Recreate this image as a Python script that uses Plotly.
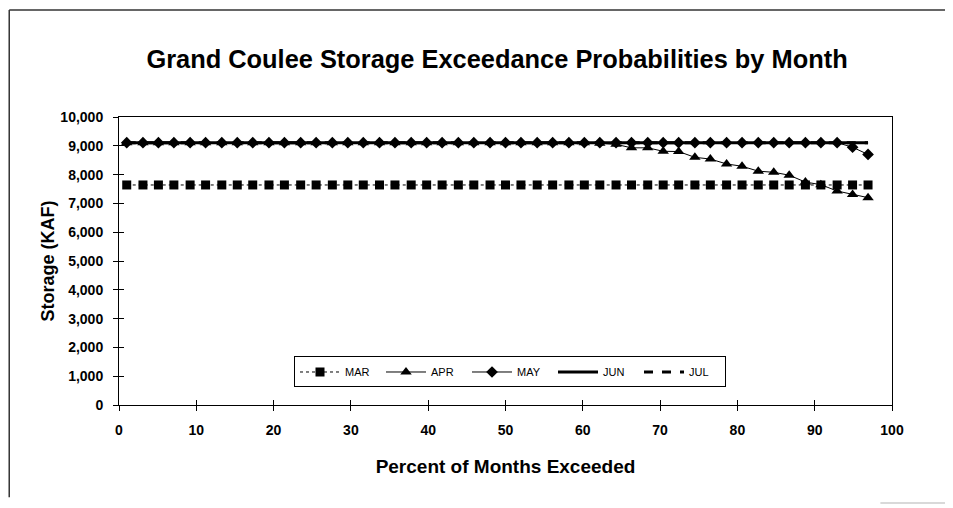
import plotly.graph_objects as go

# Percent of months exceeded (x positions of the plotted points)
pct = [1.0, 3.1, 5.1, 7.1, 9.2, 11.2, 13.3, 15.3, 17.3, 19.4, 21.4, 23.5,
       25.5, 27.6, 29.6, 31.6, 33.7, 35.7, 37.8, 39.8, 41.8, 43.9, 45.9, 48.0,
       50.0, 52.0, 54.1, 56.1, 58.2, 60.2, 62.2, 64.3, 66.3, 68.4, 70.4, 72.4,
       74.5, 76.5, 78.6, 80.6, 82.7, 84.7, 86.7, 88.8, 90.8, 92.9, 94.9, 96.9]

mar = [7640] * 48
apr = [9110] * 30 + [9090, 9050, 8930, 8930, 8810, 8800, 8600, 8540, 8370, 8290,
                     8120, 8080, 7980, 7740, 7650, 7430, 7310, 7200]
may = [9110] * 46 + [8950, 8700]
jun = [9110] * 48
jul = [9110] * 48

x_ticks = [0, 10, 20, 30, 40, 50, 60, 70, 80, 90, 100]
y_ticks = [0, 1000, 2000, 3000, 4000, 5000, 6000, 7000, 8000, 9000, 10000]

FONT = "Liberation Sans, Arial, sans-serif"

fig = go.Figure()
fig.add_trace(go.Scatter(x=pct, y=jul, name="JUL", mode="lines",
                         line=dict(color="black", width=3, dash="dash")))
fig.add_trace(go.Scatter(x=pct, y=jun, name="JUN", mode="lines",
                         line=dict(color="black", width=3)))
fig.add_trace(go.Scatter(x=pct, y=mar, name="MAR", mode="lines+markers",
                         line=dict(color="black", width=1, dash="dot"),
                         marker=dict(symbol="square", size=9, color="black")))
fig.add_trace(go.Scatter(x=pct, y=apr, name="APR", mode="lines+markers",
                         line=dict(color="black", width=1),
                         marker=dict(symbol="triangle-up", size=10, color="black")))
fig.add_trace(go.Scatter(x=pct, y=may, name="MAY", mode="lines+markers",
                         line=dict(color="black", width=1),
                         marker=dict(symbol="diamond", size=9, color="black")))
# invisible trace to create the crossing-tick overlay axes
fig.add_trace(go.Scatter(x=[0], y=[0], xaxis="x2", yaxis="y2", mode="markers",
                         marker=dict(opacity=0), showlegend=False, hoverinfo="skip"))

tickfont = dict(family=FONT, size=14, color="black", weight="bold")

fig.update_layout(
    width=945, height=500,
    margin=dict(l=111, r=61, t=109, b=103),
    paper_bgcolor="white", plot_bgcolor="white",
    font=dict(family=FONT, color="black"),
    title=dict(text="Grand Coulee Storage Exceedance Probabilities by Month",
               x=0.5175, xanchor="center", y=0.898, yanchor="middle",
               font=dict(family=FONT, size=25.4, color="black", weight="bold")),
    xaxis=dict(range=[0, 100], tickvals=x_ticks, ticks="outside", ticklen=5,
               tickcolor="black", showgrid=False, zeroline=False,
               showline=True, linecolor="black", linewidth=1, mirror=True,
               tickfont=tickfont, ticklabelstandoff=7,
               title=dict(text="Percent of Months Exceeded",
                          font=dict(family=FONT, size=19, color="black", weight="bold"),
                          standoff=22)),
    yaxis=dict(range=[0, 10000], tickvals=y_ticks, tickformat=",", ticks="outside",
               ticklen=5, tickcolor="black", showgrid=False, zeroline=False,
               showline=True, linecolor="black", linewidth=1, mirror=True,
               tickfont=tickfont, ticklabelstandoff=7,
               title=dict(text="Storage (KAF)",
                          font=dict(family=FONT, size=18, color="black", weight="bold"),
                          standoff=1)),
    xaxis2=dict(overlaying="x", matches="x", range=[0, 100], tickvals=x_ticks,
                ticks="inside", ticklen=5, tickcolor="black", showticklabels=False,
                showgrid=False, zeroline=False, showline=False, anchor="y2", side="bottom"),
    yaxis2=dict(overlaying="y", matches="y", range=[0, 10000], tickvals=y_ticks,
                ticks="inside", ticklen=5, tickcolor="black", showticklabels=False,
                showgrid=False, zeroline=False, showline=False, anchor="x2", side="left"),
    legend=dict(orientation="h", x=0.2264, y=0.1146, xanchor="left", yanchor="middle",
                bgcolor="white", bordercolor="black", borderwidth=1,
                font=dict(family=FONT, size=11, color="black"),
                traceorder="normal", itemwidth=40, entrywidth=31,
                entrywidthmode="pixels", tracegroupgap=0),
    showlegend=True,
)

# legend order: MAR, APR, MAY, JUN, JUL
for tr, rank in zip(fig.data, [5, 4, 1, 2, 3, 99]):
    tr.legendrank = rank

# outer chart frame
fig.add_shape(type="line", xref="paper", yref="paper", x0=-0.142, x1=1.079,
              y0=1.3715, y1=1.3715, line=dict(color="#333", width=1.5))
fig.add_shape(type="line", xref="paper", yref="paper", x0=-0.142, x1=-0.142,
              y0=1.3715, y1=-0.32, line=dict(color="#333", width=1.5))
fig.add_shape(type="line", xref="paper", yref="paper", x0=0.985, x1=1.079,
              y0=-0.34, y1=-0.34, line=dict(color="#ccc", width=1.5))

fig.write_html("out.html")
